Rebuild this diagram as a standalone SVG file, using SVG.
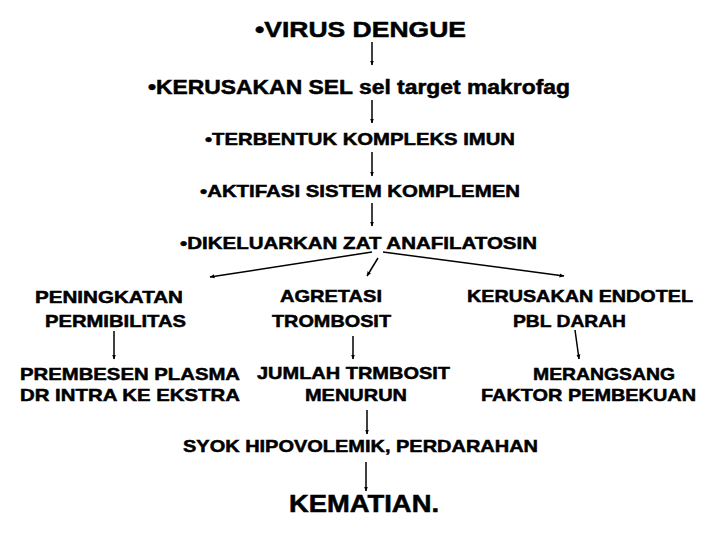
<svg xmlns="http://www.w3.org/2000/svg" width="720" height="540" viewBox="0 0 720 540">
<defs>
<marker id="ah" viewBox="0 0 10 10" refX="9" refY="5" markerWidth="5" markerHeight="5" orient="auto" markerUnits="userSpaceOnUse">
<path d="M0,1 L10,5 L0,9 z" fill="#000"/>
</marker>
<style>
text{font-family:"Liberation Sans",Arial,sans-serif;font-weight:bold;fill:#000;stroke:#000;stroke-width:0.5}
.s{font-size:17px}
line{stroke:#000;stroke-width:1.5;marker-end:url(#ah)}
</style>
</defs>
<rect width="720" height="540" fill="#fff"/>
<g id="n1"><text x="255" y="37" font-size="22" textLength="211" lengthAdjust="spacingAndGlyphs">•VIRUS DENGUE</text></g>
<g id="n2"><text x="148" y="94" font-size="20" textLength="422" lengthAdjust="spacingAndGlyphs">•KERUSAKAN SEL sel target makrofag</text></g>
<g id="n3"><text x="205" y="145" class="s" textLength="310" lengthAdjust="spacingAndGlyphs">•TERBENTUK KOMPLEKS IMUN</text></g>
<g id="n4"><text x="200" y="197" class="s" textLength="320" lengthAdjust="spacingAndGlyphs">•AKTIFASI SISTEM KOMPLEMEN</text></g>
<g id="n5"><text x="180" y="249" class="s" textLength="357" lengthAdjust="spacingAndGlyphs">•DIKELUARKAN ZAT ANAFILATOSIN</text></g>
<g id="n6"><text x="35" y="303" class="s" textLength="148" lengthAdjust="spacingAndGlyphs">PENINGKATAN</text><text x="45" y="327" class="s" textLength="141" lengthAdjust="spacingAndGlyphs">PERMIBILITAS</text></g>
<g id="n7"><text x="280" y="302" class="s" textLength="102" lengthAdjust="spacingAndGlyphs">AGRETASI</text><text x="272" y="327" class="s" textLength="119" lengthAdjust="spacingAndGlyphs">TROMBOSIT</text></g>
<g id="n8"><text x="467" y="302" class="s" textLength="226" lengthAdjust="spacingAndGlyphs">KERUSAKAN ENDOTEL</text><text x="513" y="327" class="s" textLength="113" lengthAdjust="spacingAndGlyphs">PBL DARAH</text></g>
<g id="n9"><text x="20" y="380" class="s" textLength="220" lengthAdjust="spacingAndGlyphs">PREMBESEN PLASMA</text><text x="20" y="401" class="s" textLength="220" lengthAdjust="spacingAndGlyphs">DR INTRA KE EKSTRA</text></g>
<g id="n10"><text x="257" y="379" class="s" textLength="193" lengthAdjust="spacingAndGlyphs">JUMLAH TRMBOSIT</text><text x="305" y="401" class="s" textLength="102" lengthAdjust="spacingAndGlyphs">MENURUN</text></g>
<g id="n11"><text x="533" y="380" class="s" textLength="142" lengthAdjust="spacingAndGlyphs">MERANGSANG</text><text x="481" y="401" class="s" textLength="215" lengthAdjust="spacingAndGlyphs">FAKTOR PEMBEKUAN</text></g>
<g id="n12"><text x="183" y="452" class="s" textLength="355" lengthAdjust="spacingAndGlyphs">SYOK HIPOVOLEMIK, PERDARAHAN</text></g>
<g id="n13"><text x="289" y="512" font-size="23" textLength="150" lengthAdjust="spacingAndGlyphs">KEMATIAN.</text></g>
<g id="connectors">
<line x1="372" y1="42" x2="372" y2="65"/>
<line x1="372" y1="100" x2="372" y2="123"/>
<line x1="372" y1="152" x2="372" y2="176"/>
<line x1="372" y1="203" x2="372" y2="226"/>
<line x1="372" y1="252" x2="210" y2="277"/>
<line x1="378" y1="258" x2="367" y2="276"/>
<line x1="383" y1="252" x2="564" y2="276"/>
<line x1="114" y1="331" x2="114" y2="359"/>
<line x1="353" y1="336" x2="353" y2="359"/>
<line x1="575" y1="330" x2="579" y2="359"/>
<line x1="367" y1="410" x2="367" y2="434"/>
<line x1="366" y1="462" x2="366" y2="491"/>
</g>
</svg>
